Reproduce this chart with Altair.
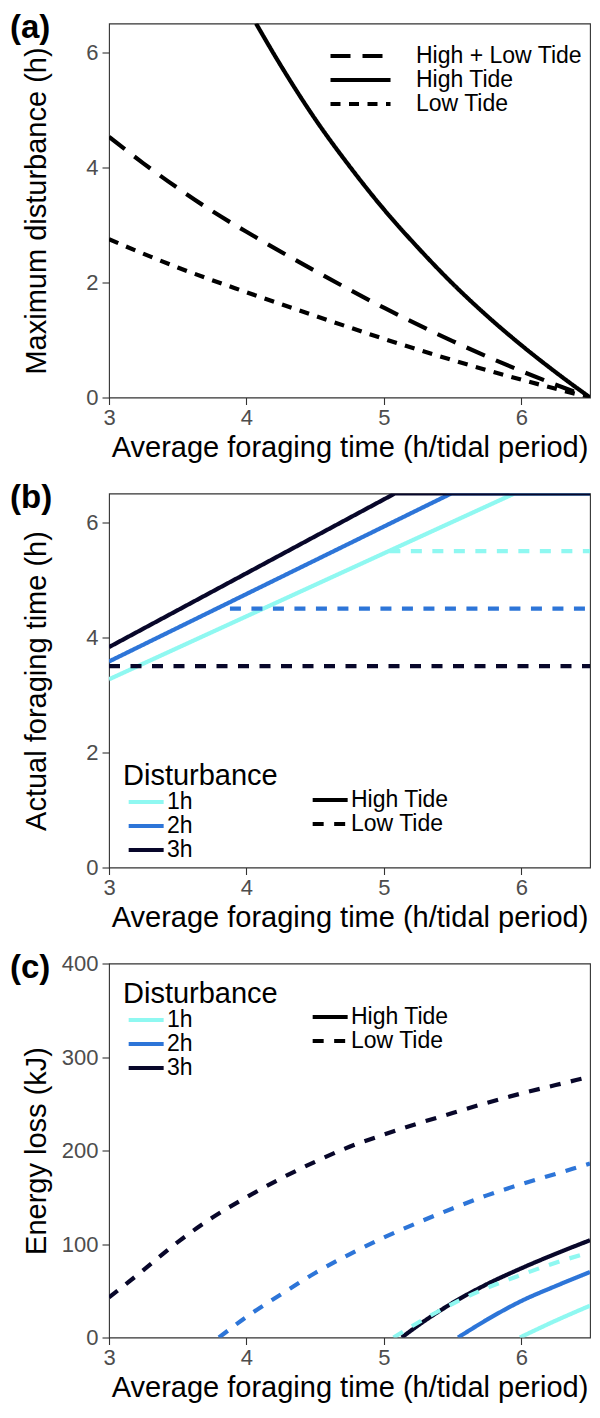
import altair as alt
import pandas as pd

FONT = "Liberation Sans"

# ---------------- Panel (a): maximum disturbance ----------------
a_tides = ["High + Low Tide", "High Tide", "Low Tide"]
a_hl_x = [3.0, 3.25, 3.5, 3.75, 4.0, 4.5, 5.0, 5.5, 6.0, 6.5]
a_hl_y = [4.53, 4.07, 3.64, 3.24, 2.88, 2.2, 1.56, 0.98, 0.46, 0.0]
a_high_x = [4.07, 4.25, 4.5, 4.75, 5.0, 5.25, 5.5, 5.75, 6.0, 6.25, 6.5]
a_high_y = [6.5, 5.77, 4.84, 4.02, 3.27, 2.6, 1.98, 1.42, 0.91, 0.44, 0.0]
a_low_x = [3.0, 3.5, 4.0, 4.5, 5.0, 5.5, 6.0, 6.5]
a_low_y = [2.75, 2.26, 1.83, 1.42, 1.02, 0.65, 0.31, 0.0]

# ---------------- Panel (b): actual foraging time ----------------
dist_levels = ["1h", "2h", "3h"]
dist_colors = ["#8FF8F1", "#2D75D8", "#08072A"]
tide_levels = ["High Tide", "Low Tide"]

b_high_1h_x = [3.0, 5.95, 6.5]
b_high_1h_y = [3.27, 6.5, 6.5]
b_high_2h_x = [3.0, 5.49, 6.5]
b_high_2h_y = [3.58, 6.5, 6.5]
b_high_3h_x = [3.0, 5.08, 6.5]
b_high_3h_y = [3.83, 6.5, 6.5]
b_low_1h_x = [5.04, 6.5]
b_low_1h_y = [5.5, 5.5]
b_low_2h_x = [3.88, 6.5]
b_low_2h_y = [4.5, 4.5]
b_low_3h_x = [3.0, 6.5]
b_low_3h_y = [3.5, 3.5]

# ---------------- Panel (c): energy loss ----------------
c_high_1h_x = [5.99, 6.25, 6.5]
c_high_1h_y = [0, 18, 34]
c_high_2h_x = [5.54, 5.75, 6.0, 6.25, 6.5]
c_high_2h_y = [0, 19, 39, 55, 70]
c_high_3h_x = [5.13, 5.25, 5.5, 5.75, 6.0, 6.25, 6.5]
c_high_3h_y = [0, 13, 37, 57, 74, 89.5, 104]
c_low_1h_x = [5.07, 5.25, 5.5, 5.75, 6.0, 6.25, 6.5]
c_low_1h_y = [0, 16, 36, 53, 67, 80, 91]
c_low_2h_x = [3.8, 4.0, 4.25, 4.5, 4.75, 5.0, 5.25, 5.5, 5.75, 6.0, 6.25, 6.5]
c_low_2h_y = [0, 22, 46, 69, 89, 107, 123, 138, 152, 164, 175, 186]
c_low_3h_x = [3.0, 3.25, 3.5, 3.75, 4.0, 4.25, 4.5, 4.75, 5.0, 5.25, 5.5, 5.75, 6.0, 6.25, 6.5]
c_low_3h_y = [43, 72, 102, 128, 150, 170, 188, 204, 217, 229, 240, 251, 261, 270, 279]

x_ticks = [3, 4, 5, 6]
yab_ticks = [0, 2, 4, 6]
yc_ticks = [0, 100, 200, 300, 400]


def rows(xs, ys, **extra):
    return [dict(x=a, y=b, **extra) for a, b in zip(xs, ys)]


df_a = pd.DataFrame(
    rows(a_hl_x, a_hl_y, Tide="High + Low Tide")
    + rows(a_high_x, a_high_y, Tide="High Tide")
    + rows(a_low_x, a_low_y, Tide="Low Tide")
)

df_b = pd.DataFrame(
    rows(b_high_1h_x, b_high_1h_y, Disturbance="1h", Tide="High Tide")
    + rows(b_high_2h_x, b_high_2h_y, Disturbance="2h", Tide="High Tide")
    + rows(b_high_3h_x, b_high_3h_y, Disturbance="3h", Tide="High Tide")
    + rows(b_low_1h_x, b_low_1h_y, Disturbance="1h", Tide="Low Tide")
    + rows(b_low_2h_x, b_low_2h_y, Disturbance="2h", Tide="Low Tide")
    + rows(b_low_3h_x, b_low_3h_y, Disturbance="3h", Tide="Low Tide")
)

df_c = pd.DataFrame(
    rows(c_high_1h_x, c_high_1h_y, Disturbance="1h", Tide="High Tide")
    + rows(c_high_2h_x, c_high_2h_y, Disturbance="2h", Tide="High Tide")
    + rows(c_high_3h_x, c_high_3h_y, Disturbance="3h", Tide="High Tide")
    + rows(c_low_1h_x, c_low_1h_y, Disturbance="1h", Tide="Low Tide")
    + rows(c_low_2h_x, c_low_2h_y, Disturbance="2h", Tide="Low Tide")
    + rows(c_low_3h_x, c_low_3h_y, Disturbance="3h", Tide="Low Tide")
)

W, H = 481, 374
LW = 4.2


def x_enc():
    return alt.X(
        "x:Q",
        scale=alt.Scale(domain=[3, 6.5], nice=False, zero=False),
        axis=alt.Axis(
            title="Average foraging time (h/tidal period)",
            values=x_ticks,
            labelFlush=False,
            titlePadding=5,
            labelPadding=3,
        ),
    )


def y_enc(title, dom, ticks):
    return alt.Y(
        "y:Q",
        scale=alt.Scale(domain=dom, nice=False, zero=False),
        axis=alt.Axis(
            title=title,
            values=ticks,
            titleX=-73,
            titleY=H / 2,
            titleAngle=270,
            titleAlign="center",
            titleBaseline="middle",
            labelPadding=4,
        ),
    )


def tag(label):
    return alt.Chart(pd.DataFrame({"tag": [label]})).mark_text(
        align="left", baseline="middle", fontSize=33, fontWeight="bold",
        font=FONT, color="black",
    ).encode(text="tag:N", x=alt.value(-99), y=alt.value(4))


LINE_PATH = "M-1,0L5,0"
LINE_PATH_A = "M-1,0L5.67,0"

# ---- (a)
lines_a = alt.Chart(df_a).mark_line(
    strokeWidth=LW, clip=True, interpolate="monotone", color="black"
).encode(
    x=x_enc(),
    y=y_enc("Maximum disturbance (h)", [0, 6.5], yab_ticks),
    strokeDash=alt.StrokeDash(
        "Tide:N",
        scale=alt.Scale(domain=a_tides, range=[[20, 12], [1, 0], [10, 8.5]]),
        legend=alt.Legend(
            title=None, orient="none", legendX=219, legendY=21,
            labelFontSize=23, labelFont=FONT, labelColor="black", labelLimit=0,
            symbolType=LINE_PATH_A, symbolSize=324, symbolStrokeWidth=LW,
            symbolStrokeColor="black", labelOffset=65, rowPadding=0,
        ),
    ),
)
panel_a = alt.layer(lines_a, tag("(a)")).properties(width=W, height=H)


def color_legend(ly):
    return alt.Legend(
        title="Disturbance", orient="none", legendX=14, legendY=ly,
        titleFontSize=29, titleFont=FONT, titleFontWeight="normal",
        titleColor="black", titlePadding=0, titleLimit=0,
        labelFontSize=23, labelFont=FONT, labelColor="black", labelLimit=0,
        symbolType=LINE_PATH, symbolSize=136, symbolStrokeWidth=LW,
        labelOffset=21, rowPadding=0,
    )


def dash_legend(ly):
    return alt.Legend(
        title=None, orient="none", legendX=198, legendY=ly,
        labelFontSize=23, labelFont=FONT, labelColor="black", labelLimit=0,
        symbolType=LINE_PATH, symbolSize=136, symbolStrokeWidth=LW,
        symbolStrokeColor="black", labelOffset=21, rowPadding=0,
    )


def panel_bc(df, ytitle, ydom, yticks, interp, ly_color, ly_dash, label):
    lines = alt.Chart(df).mark_line(
        strokeWidth=LW, clip=True, interpolate=interp
    ).encode(
        x=x_enc(),
        y=y_enc(ytitle, ydom, yticks),
        color=alt.Color(
            "Disturbance:N",
            scale=alt.Scale(domain=dist_levels, range=dist_colors),
            legend=color_legend(ly_color),
        ),
        strokeDash=alt.StrokeDash(
            "Tide:N",
            scale=alt.Scale(domain=tide_levels, range=[[1, 0], [11, 10.5]]),
            legend=dash_legend(ly_dash),
        ),
    )
    return alt.layer(lines, tag(label)).properties(width=W, height=H)


panel_b = panel_bc(df_b, "Actual foraging time (h)", [0, 6.5], yab_ticks,
                   "linear", 268, 295, "(b)")
panel_c = panel_bc(df_c, "Energy loss (kJ)", [0, 400], yc_ticks,
                   "monotone", 16, 42, "(c)")

chart = alt.vconcat(panel_a, panel_b, panel_c, spacing=17).resolve_scale(
    color="independent", strokeDash="independent", y="independent"
).resolve_legend(
    color="independent", strokeDash="independent"
).properties(
    padding={"left": 1, "top": 2.5, "right": 0, "bottom": 0}
).configure_view(
    stroke="#333333", strokeWidth=1.1
).configure_axis(
    labelFont=FONT, labelFontSize=22, labelColor="#4D4D4D",
    titleFont=FONT, titleFontSize=29, titleColor="black", titleFontWeight="normal",
    tickColor="#333333", tickSize=7, tickWidth=1.1, domain=False, grid=False,
).configure_legend(
    labelFont=FONT, titleFont=FONT
)

chart.save("out.html", embed_options={"renderer": "svg", "actions": False})
